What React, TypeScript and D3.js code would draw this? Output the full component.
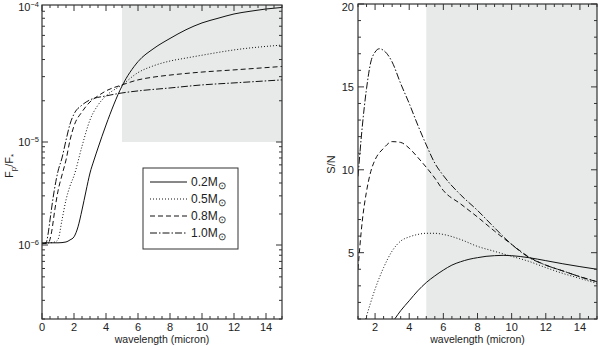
import React, { useEffect, useRef } from 'react'
import * as d3 from 'd3'

// ---- left panel: Fp/F* vs wavelength (log y)
const fluxLambda02 = [0, 1, 1.5, 1.75, 2, 2.25, 2.5, 2.75, 3, 3.25, 3.5, 4, 5, 6, 7, 8, 9, 10, 11, 12, 13, 14, 15]
const flux02 = [1.05e-6, 1.05e-6, 1.07e-6, 1.12e-6, 1.2e-6, 1.5e-6, 2.19e-6, 3.34e-6, 5.0e-6, 6.68e-6, 8.75e-6, 1.33e-5, 2.56e-5, 3.86e-5, 4.83e-5, 5.7e-5, 6.6e-5, 7.4e-5, 8.0e-5, 8.6e-5, 9.0e-5, 9.35e-5, 9.6e-5]
const fluxLambda05 = [0, 0.5, 0.8, 1, 1.25, 1.5, 1.75, 2, 2.5, 3, 3.5, 4, 5, 6, 7, 8, 9, 10, 12, 15]
const flux05 = [1.04e-6, 1.05e-6, 1.07e-6, 1.13e-6, 1.75e-6, 2.74e-6, 3.74e-6, 4.7e-6, 9.1e-6, 1.45e-5, 1.86e-5, 2.17e-5, 2.61e-5, 3.21e-5, 3.61e-5, 3.9e-5, 4.1e-5, 4.3e-5, 4.7e-5, 5.1e-5]
const fluxLambda08 = [0, 0.4, 0.6, 0.8, 1, 1.25, 1.5, 1.75, 2, 2.5, 3, 3.5, 4, 5, 6, 7, 8, 10, 12, 15]
const flux08 = [1.03e-6, 1.05e-6, 1.34e-6, 2.19e-6, 3.34e-6, 4.78e-6, 6.68e-6, 1.03e-5, 1.31e-5, 1.66e-5, 1.96e-5, 2.17e-5, 2.36e-5, 2.61e-5, 2.84e-5, 2.98e-5, 3.08e-5, 3.24e-5, 3.36e-5, 3.56e-5]
const fluxLambda10 = [0, 0.25, 0.4, 0.5, 0.75, 1, 1.25, 1.5, 1.75, 2, 2.5, 3, 4, 5, 6, 8, 10, 12, 15]
const flux10 = [1.03e-6, 1.05e-6, 1.34e-6, 1.75e-6, 3.27e-6, 5.2e-6, 7.0e-6, 1.03e-5, 1.35e-5, 1.6e-5, 1.86e-5, 2.03e-5, 2.17e-5, 2.28e-5, 2.36e-5, 2.48e-5, 2.61e-5, 2.7e-5, 2.84e-5]

// ---- right panel: S/N vs wavelength
const snLambda02 = [3.15, 3.5, 4, 4.5, 5, 5.5, 6, 6.5, 7, 7.5, 8, 8.5, 9, 9.5, 10, 11, 12, 13, 14, 15]
const sn02 = [1.0, 1.5, 2.1, 2.7, 3.2, 3.6, 3.95, 4.25, 4.45, 4.6, 4.7, 4.78, 4.82, 4.84, 4.82, 4.7, 4.52, 4.33, 4.16, 4.0]
const snLambda05 = [1.45, 2, 2.5, 3, 3.5, 4, 4.5, 5, 5.5, 6, 7, 8, 9, 10, 11, 12, 13, 14, 15]
const sn05 = [1.0, 2.8, 4.1, 5.1, 5.7, 5.95, 6.1, 6.17, 6.17, 6.1, 5.8, 5.38, 5.08, 4.78, 4.48, 4.1, 3.75, 3.45, 3.15]
const snLambda08 = [1, 1.25, 1.5, 1.75, 2, 2.5, 3, 3.5, 4, 4.5, 5, 5.5, 6, 7, 8, 9, 10, 11, 12, 13, 14, 15]
const sn08 = [4.0, 6.9, 8.7, 9.9, 10.6, 11.3, 11.7, 11.65, 11.3, 10.75, 10.15, 9.5, 8.75, 7.95, 7.15, 6.3, 5.5, 4.75, 4.25, 3.9, 3.55, 3.25]
const snLambda10 = [1, 1.25, 1.5, 1.75, 2, 2.25, 2.5, 3, 3.5, 4, 4.5, 5, 5.5, 6, 7, 8, 9, 10, 11, 12, 13, 14, 15]
const sn10 = [9.6, 12.6, 14.9, 16.5, 17.1, 17.3, 17.2, 16.5, 15.2, 14.0, 12.7, 11.5, 10.4, 9.65, 8.5, 7.55, 6.5, 5.5, 4.72, 4.25, 3.9, 3.55, 3.25]

const massLabels = ['0.2', '0.5', '0.8', '1.0']
const dashes = ['none', '1,2', '5,3', '7,2,1.5,2']

const leftXTicks = [0, 2, 4, 6, 8, 10, 12, 14]
const rightXTicks = [2, 4, 6, 8, 10, 12, 14]
const leftYTicks = [-6, -5, -4]
const rightYTicks = [5, 10, 15, 20]

const font = '"Liberation Sans", Arial, Helvetica, sans-serif'
const axisColor = '#333'
const shade = '#e7eae9'

function zip(xs: number[], ys: number[]) {
    return xs.map((x, i) => [x, ys[i]] as [number, number])
}

export default function App() {
    const ref = useRef<SVGSVGElement>(null)

    useEffect(() => {
        const svg = d3.select(ref.current)
        svg.selectAll('*').remove()

        const L = { l: 42, r: 282, t: 5, b: 319 }
        const R = { l: 358, r: 597, t: 4, b: 319 }

        const xL = d3.scaleLinear().domain([0, 15]).range([L.l, L.r])
        // IDL-style log axis, decades not equally spaced in the original plot
        const yL = d3.scaleLog().domain([2e-7, 1e-6, 1e-5, 1e-4]).range([L.b, 245, 142, L.t])
        const xR = d3.scaleLinear().domain([1, 15]).range([R.l, R.r])
        const yR = d3.scaleLinear().domain([1, 20]).range([R.b, R.t])

        const defs = svg.append('defs')
        defs.append('clipPath').attr('id', 'clipL').append('rect')
            .attr('x', L.l).attr('y', L.t).attr('width', L.r - L.l).attr('height', L.b - L.t)
        defs.append('clipPath').attr('id', 'clipR').append('rect')
            .attr('x', R.l).attr('y', R.t).attr('width', R.r - R.l).attr('height', R.b - R.t)

        // shaded regions
        svg.append('rect')
            .attr('x', xL(5)).attr('y', L.t)
            .attr('width', xL(15) - xL(5)).attr('height', yL(1e-5) - L.t)
            .attr('fill', shade)
        svg.append('rect')
            .attr('x', xR(5)).attr('y', R.t)
            .attr('width', xR(15) - xR(5)).attr('height', R.b - R.t)
            .attr('fill', shade)

        // curves
        const leftSeries = [zip(fluxLambda02, flux02), zip(fluxLambda05, flux05), zip(fluxLambda08, flux08), zip(fluxLambda10, flux10)]
        const rightSeries = [zip(snLambda02, sn02), zip(snLambda05, sn05), zip(snLambda08, sn08), zip(snLambda10, sn10)]

        const lineL = d3.line<[number, number]>().x(d => xL(d[0])).y(d => yL(d[1])).curve(d3.curveMonotoneX)
        const lineR = d3.line<[number, number]>().x(d => xR(d[0])).y(d => yR(d[1])).curve(d3.curveMonotoneX)

        svg.append('g').attr('clip-path', 'url(#clipL)')
            .selectAll('path').data(leftSeries).join('path')
            .attr('d', d => lineL(d))
            .attr('fill', 'none').attr('stroke', '#111').attr('stroke-width', 1)
            .attr('stroke-dasharray', (d, i) => dashes[i])
        svg.append('g').attr('clip-path', 'url(#clipR)')
            .selectAll('path').data(rightSeries).join('path')
            .attr('d', d => lineR(d))
            .attr('fill', 'none').attr('stroke', '#111').attr('stroke-width', 1)
            .attr('stroke-dasharray', (d, i) => dashes[i])

        // frames with inward ticks on all sides
        const frame = (box: typeof L, xs: number[], xMajor: number[], ys: number[], yMajor: number[],
            sx: (v: number) => number, sy: (v: number) => number) => {
            const g = svg.append('g').attr('stroke', axisColor)
            g.append('rect').attr('x', box.l).attr('y', box.t)
                .attr('width', box.r - box.l).attr('height', box.b - box.t)
                .attr('fill', 'none').attr('stroke-width', 1.2)
            xs.forEach(v => {
                const len = xMajor.includes(v) ? 6 : 3
                const px = sx(v)
                g.append('line').attr('x1', px).attr('x2', px).attr('y1', box.b).attr('y2', box.b - len)
                g.append('line').attr('x1', px).attr('x2', px).attr('y1', box.t).attr('y2', box.t + len)
            })
            ys.forEach(v => {
                const len = yMajor.includes(v) ? 6 : 3
                const py = sy(v)
                g.append('line').attr('y1', py).attr('y2', py).attr('x1', box.l).attr('x2', box.l + len)
                g.append('line').attr('y1', py).attr('y2', py).attr('x1', box.r).attr('x2', box.r - len)
            })
        }

        const halfSteps = (a: number, b: number) => d3.range(a, b + 0.001, 0.5)
        const logMinor: number[] = []
        for (let e = -7; e <= -5; e++) {
            for (let k = 1; k <= 9; k++) {
                const v = k * Math.pow(10, e)
                if (v >= 2e-7 && v < 1e-4) logMinor.push(v)
            }
        }
        frame(L, halfSteps(0, 15), leftXTicks, logMinor, leftYTicks.map(e => Math.pow(10, e)), xL, yL)
        frame(R, halfSteps(1, 15), rightXTicks, d3.range(1, 21), rightYTicks, xR, yR)

        // tick labels
        const text = svg.append('g').attr('font-family', font).attr('fill', '#222')
        text.selectAll('.xl').data(leftXTicks).join('text')
            .attr('x', d => xL(d)).attr('y', 331).attr('text-anchor', 'middle')
            .attr('font-size', 11).text(d => d)
        text.selectAll('.xr').data(rightXTicks).join('text')
            .attr('x', d => xR(d)).attr('y', 331).attr('text-anchor', 'middle')
            .attr('font-size', 11).text(d => d)
        text.selectAll('.yr').data(rightYTicks).join('text')
            .attr('x', R.l - 4).attr('y', d => Math.max(yR(d) + 4, 11)).attr('text-anchor', 'end')
            .attr('font-size', 11).text(d => d)

        leftYTicks.forEach(e => {
            const t = text.append('text')
                .attr('x', L.l - 3).attr('y', Math.max(yL(Math.pow(10, e)) + 4, 11))
                .attr('text-anchor', 'end').attr('font-size', 11)
            t.append('tspan').text('10')
            t.append('tspan').attr('dy', -4).attr('font-size', 7.5).text('\u2212' + (-e))
        })

        // axis titles
        text.append('text').attr('x', (L.l + L.r) / 2).attr('y', 343)
            .attr('text-anchor', 'middle').attr('font-size', 10.5).text('wavelength (micron)')
        text.append('text').attr('x', (R.l + R.r) / 2).attr('y', 343)
            .attr('text-anchor', 'middle').attr('font-size', 10.5).text('wavelength (micron)')

        const yTitle = text.append('text')
            .attr('transform', `translate(13, ${(L.t + L.b) / 2 + 4}) rotate(-90)`)
            .attr('text-anchor', 'middle').attr('font-size', 11)
        yTitle.append('tspan').text('F')
        yTitle.append('tspan').attr('dy', 3).attr('font-size', 8).text('p')
        yTitle.append('tspan').attr('dy', -3).text('/F')
        yTitle.append('tspan').attr('dy', 3).attr('font-size', 8).text('*')

        text.append('text')
            .attr('transform', `translate(335, ${(R.t + R.b) / 2 + 3}) rotate(-90)`)
            .attr('text-anchor', 'middle').attr('font-size', 11).text('S/N')

        // legend
        const lg = svg.append('g').attr('transform', 'translate(143, 168)')
        lg.append('rect').attr('width', 95).attr('height', 81)
            .attr('fill', 'white').attr('stroke', axisColor).attr('stroke-width', 1)
        const rows = lg.selectAll('g.row').data(massLabels).join('g')
            .attr('transform', (d, i) => `translate(0, ${14 + i * 17})`)
        rows.append('line').attr('x1', 7).attr('x2', 44).attr('y1', 0).attr('y2', 0)
            .attr('stroke', '#111').attr('stroke-dasharray', (d, i) => dashes[i])
        const lt = rows.append('text').attr('x', 48).attr('y', 4)
            .attr('font-family', font).attr('font-size', 12).attr('fill', '#222')
        lt.append('tspan').text(d => d + 'M')
        lt.append('tspan').attr('dy', 3).attr('font-size', 10).text('\u2299')
    }, [])

    return (
        <svg ref={ref} width={600} height={346}
            style={{ position: 'absolute', left: 0, top: 0, background: 'white' }} />
    )
}
